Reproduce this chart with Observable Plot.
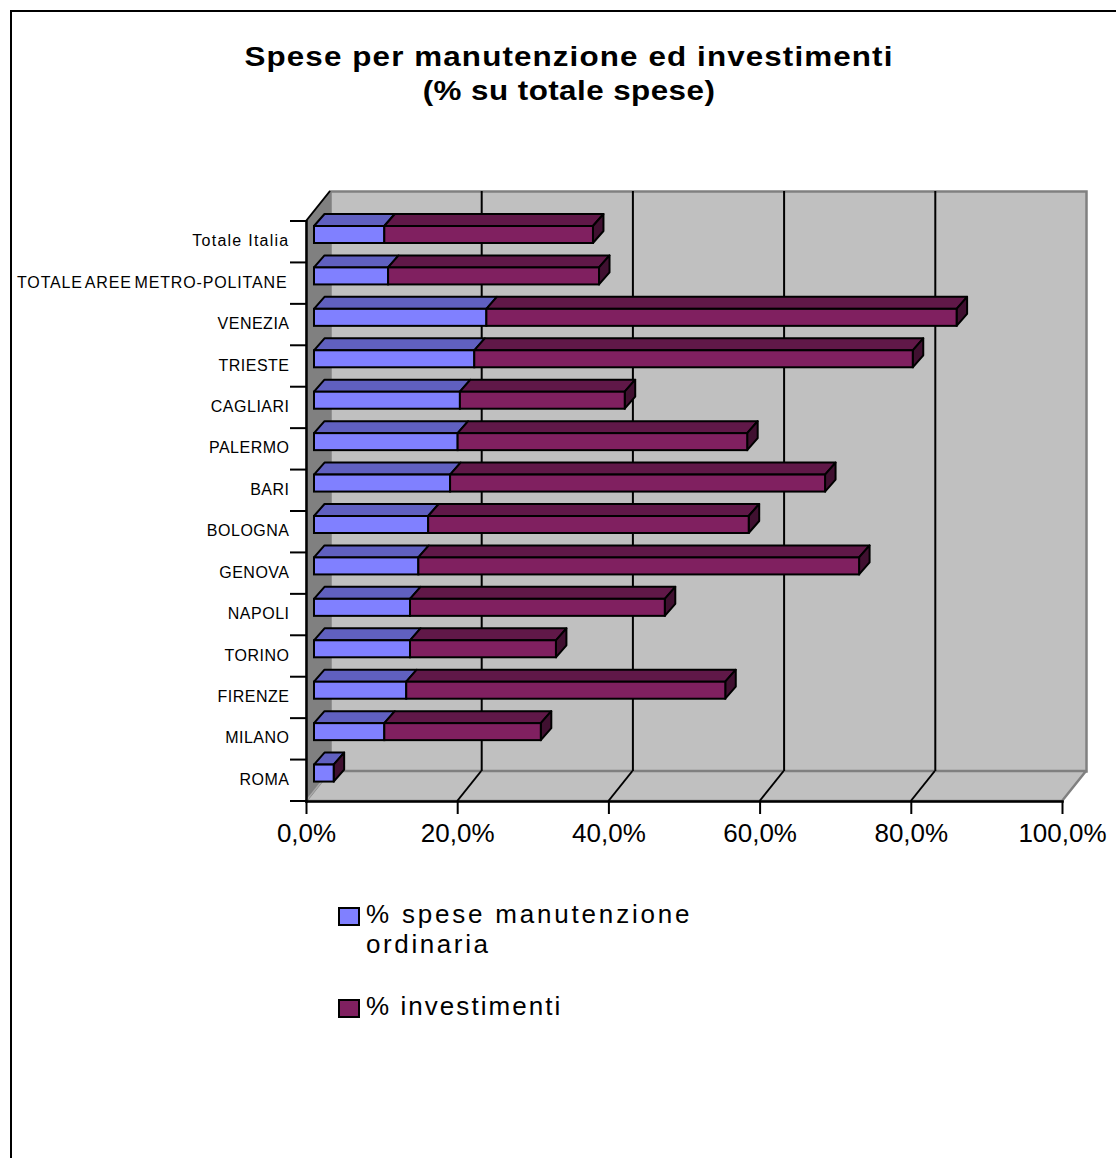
<!DOCTYPE html>
<html lang="it">
<head>
<meta charset="utf-8">
<script src="https://cdn.jsdelivr.net/npm/d3@7"></script>
<script src="https://cdn.jsdelivr.net/npm/@observablehq/plot@0.6"></script>
<style>
  html, body { margin: 0; padding: 0; background: #fff; overflow: hidden; }
  body { position: relative; width: 1116px; height: 1158px; font-family: "Liberation Sans", Arial, sans-serif; color: #000; }
  #sheet { position: absolute; left: 9.5px; top: 10px; right: -10px; bottom: -10px; border-left: 2px solid #000; border-top: 2px solid #000; pointer-events: none; }
  #chart { position: absolute; left: 0; top: 0; }
  #title { position: absolute; left: 0; top: 40px; width: 1138px; margin: 0; text-align: center; font-size: 28px; line-height: 34px; font-weight: bold; transform: scaleX(1.12); white-space: nowrap; }
  #title .first { letter-spacing: 1px; }
  #title .second { letter-spacing: 0.4px; }
  .swatch { position: absolute; left: 338px; width: 17.5px; height: 14.5px; border: 2px solid #000; }
  .entry { position: absolute; left: 366px; font-size: 26px; line-height: 30px; white-space: nowrap; }
  .cat-label { letter-spacing: 0.5px; }
  .cat-long { letter-spacing: 0.85px; word-spacing: -2.5px; }
  .cat-mixed { letter-spacing: 1.25px; }
</style>
</head>
<body>
<div id="sheet"></div>
<div id="chart"></div>
<h1 id="title"><span class="first">Spese per manutenzione ed investimenti</span><br><span class="second">(% su totale spese)</span></h1>
<div class="swatch" style="top:907px;background:#8080ff"></div>
<div class="entry" style="top:899px"><span style="letter-spacing:2.8px">% spese manutenzione</span><br><span style="letter-spacing:2.6px">ordinaria</span></div>
<div class="swatch" style="top:999px;background:#802060"></div>
<div class="entry" style="top:991px;letter-spacing:2.05px">% investimenti</div>
<script>
// Cities, top to bottom as they appear on the category axis
const categories = ["Totale Italia", "TOTALE AREE METRO-POLITANE", "VENEZIA", "TRIESTE", "CAGLIARI", "PALERMO", "BARI", "BOLOGNA", "GENOVA", "NAPOLI", "TORINO", "FIRENZE", "MILANO", "ROMA"];
// Share of total spending, in percent
const manutenzione = [9.3, 9.8, 22.8, 21.2, 19.3, 19.0, 18.0, 15.1, 13.8, 12.7, 12.7, 12.2, 9.3, 2.6];
const investimenti = [27.6, 27.9, 62.2, 58.0, 21.8, 38.3, 49.6, 42.4, 58.3, 33.7, 19.3, 42.2, 20.7, 0];
const xTicks = [0, 20, 40, 60, 80, 100];

const rows = categories.map((name, i) => ({
  name,
  start: manutenzione[i],
  end: manutenzione[i] + investimenti[i]
}));

// Pseudo-3D projection offsets, in pixels
const wall = {dx: 24, dy: -30};
const bar = {dx: 8, top: 5, height: 17, depthX: 10.5, depthY: -12};
const outline = 2;

const blue = {front: "#8080ff", top: "#6060c0"};
const wine = {front: "#802060", top: "#601848", side: "#401030"};

function polygon(root, points, fill, stroke, width) {
  root.append("polygon")
    .attr("points", points.map(p => p.join(",")).join(" "))
    .attr("fill", fill)
    .attr("stroke", stroke)
    .attr("stroke-width", width)
    .attr("stroke-linejoin", "round");
}

// Left wall, floor and the grid lines running across the floor
function chamber(index, {x}, values, {height, marginTop, marginBottom}) {
  const root = d3.create("svg:g");
  const top = marginTop, bottom = height - marginBottom, x0 = x(0), x1 = x(100);
  polygon(root, [[x0, bottom], [x0 + wall.dx, bottom + wall.dy], [x1 + wall.dx, bottom + wall.dy], [x1, bottom]], "#c0c0c0", "#808080", 2.5);
  polygon(root, [[x0, top], [x0 + wall.dx, top + wall.dy], [x0 + wall.dx, bottom + wall.dy], [x0, bottom]], "#808080", "#808080", 1);
  root.append("line")
    .attr("x1", x0).attr("y1", top).attr("x2", x0 + wall.dx).attr("y2", top + wall.dy)
    .attr("stroke", "#000").attr("stroke-width", outline);
  root.append("line")
    .attr("x1", x0).attr("y1", bottom).attr("x2", x0 + wall.dx).attr("y2", bottom + wall.dy)
    .attr("stroke", "#a8a8a8").attr("stroke-width", 1.5);
  for (const t of xTicks.slice(1, -1)) {
    root.append("line")
      .attr("x1", x(t)).attr("y1", bottom).attr("x2", x(t) + wall.dx).attr("y2", bottom + wall.dy)
      .attr("stroke", "#000").attr("stroke-width", outline);
  }
  return root.node();
}

// Tick marks on the category axis sit on the band boundaries
function categoryTicks(index, {x, y}, values, {height, marginBottom}) {
  const root = d3.create("svg:g");
  const positions = [...categories.map(c => y(c)), height - marginBottom];
  for (const p of positions) {
    root.append("line")
      .attr("x1", x(0) - 16).attr("x2", x(0)).attr("y1", p).attr("y2", p)
      .attr("stroke", "#000").attr("stroke-width", outline);
  }
  return root.node();
}

// Top and end faces of the stacked bars
function barDepth(index, {x, y}) {
  const root = d3.create("svg:g");
  const {dx, top, height: h, depthX: ex, depthY: ey} = bar;
  const face = (a, b, yTop, fill) =>
    polygon(root, [[a, yTop], [a + ex, yTop + ey], [b + ex, yTop + ey], [b, yTop]], fill, "#000", outline);
  for (const r of rows) {
    const yTop = y(r.name) + top;
    const a = x(0) + dx, b = x(r.start) + dx, c = x(r.end) + dx;
    face(a, b, yTop, blue.top);
    if (c > b) face(b, c, yTop, wine.top);
    polygon(root, [[c, yTop], [c + ex, yTop + ey], [c + ex, yTop + ey + h], [c, yTop + h]], wine.side, "#000", outline);
  }
  return root.node();
}

const bandStep = 580 / categories.length;
const insetBottom = bandStep - bar.top - bar.height;
const labelOpts = {
  x: () => 0,
  y: d => d,
  dx: -17,
  dy: -1,
  textAnchor: "end",
  fontSize: 16,
  fill: "#000"
};

const plot = Plot.plot({
  width: 1116,
  height: 1158,
  marginLeft: 306,
  marginRight: 54,
  marginTop: 221,
  marginBottom: 357,
  style: {fontFamily: "'Liberation Sans', Arial, sans-serif", background: "transparent", overflow: "visible"},
  x: {domain: [0, 100], axis: null},
  y: {domain: categories, padding: 0, round: false, axis: null},
  marks: [
    Plot.frame({fill: "#c0c0c0", stroke: "#808080", strokeWidth: 2.5, dx: wall.dx, dy: wall.dy}),
    chamber,
    Plot.ruleX(xTicks.slice(1, -1), {stroke: "#000", strokeWidth: outline, dx: wall.dx, dy: wall.dy}),
    Plot.frame({anchor: "bottom", stroke: "#000", strokeWidth: 2.5}),
    Plot.frame({anchor: "left", stroke: "#000", strokeWidth: 2.5}),
    Plot.axisX(xTicks, {
      anchor: "bottom",
      label: null,
      tickSize: 13,
      tickPadding: 9,
      fontSize: 26,
      stroke: "#000",
      strokeWidth: outline,
      fill: "#000",
      tickFormat: t => `${t},0%`
    }),
    categoryTicks,
    Plot.text(categories.slice(0, 1), {...labelOpts, className: "cat-mixed"}),
    Plot.text(categories.slice(1, 2), {...labelOpts, dx: -19, className: "cat-long"}),
    Plot.text(categories.slice(2), {...labelOpts, dx: -17, className: "cat-label"}),
    barDepth,
    Plot.barX(rows, {x1: () => 0, x2: "start", y: "name", dx: bar.dx, insetTop: bar.top, insetBottom, fill: blue.front, stroke: "#000", strokeWidth: outline}),
    Plot.barX(rows.filter(r => r.end > r.start), {x1: "start", x2: "end", y: "name", dx: bar.dx, insetTop: bar.top, insetBottom, fill: wine.front, stroke: "#000", strokeWidth: outline})
  ]
});
document.getElementById("chart").append(plot);
</script>
</body>
</html>
